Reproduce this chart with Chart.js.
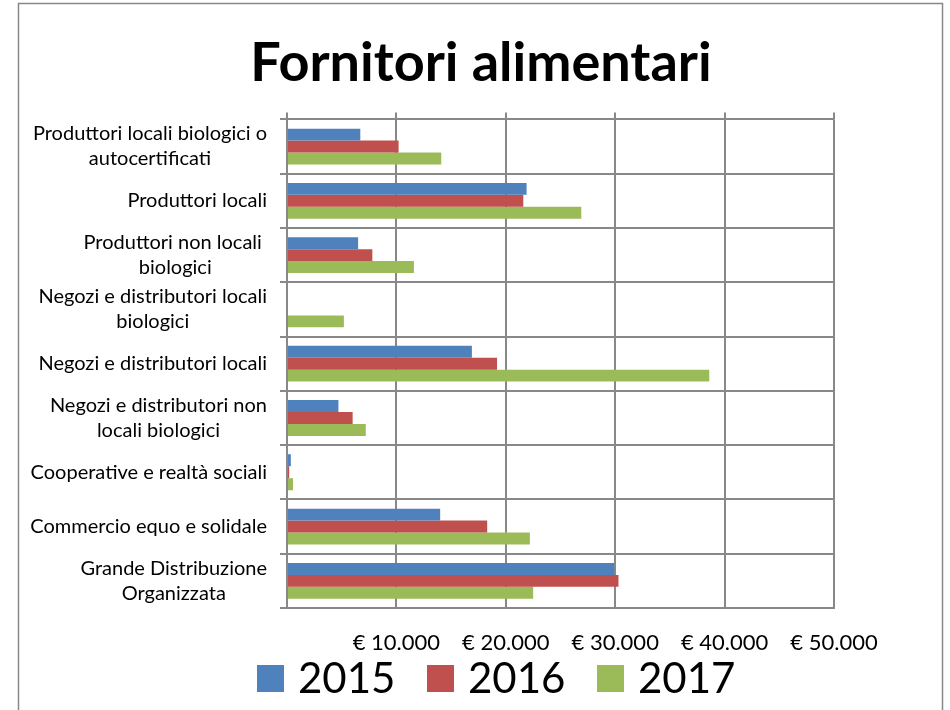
<!DOCTYPE html>
<html>
<head>
<meta charset="utf-8">
<script src="https://cdn.jsdelivr.net/npm/chart.js@4/dist/chart.umd.min.js"></script>
<style>
  body { margin: 0; background: #fff; }
  #wrap { width: 950px; height: 710px; }
</style>
</head>
<body>
<div id="wrap"><canvas id="fornitoriChart" width="950" height="710"></canvas></div>
<script>
// categories (one array per label line, wrapped like the original)
const categories = [
    ['Produttori locali biologici o', 'autocertificati'],
    ['Produttori locali'],
    ['Produttori non locali ', 'biologici'],
    ['Negozi e distributori locali', 'biologici'],
    ['Negozi e distributori locali'],
    ['Negozi e distributori non', 'locali biologici'],
    ['Cooperative e realtà sociali'],
    ['Commercio equo e solidale'],
    ['Grande Distribuzione', 'Organizzata']
];
const years = ['2015', '2016', '2017'];
const values2015 = [6700, 21900, 6500, 0, 16900, 4700, 350, 14000, 29900];
const values2016 = [10200, 21600, 7800, 0, 19200, 6000, 200, 18300, 30300];
const values2017 = [14100, 26900, 11600, 5200, 38600, 7200, 550, 22200, 22500];
const xTicks = [0, 10000, 20000, 30000, 40000, 50000];

const colors = ['#4F81BD', '#C0504D', '#9BBB59'];
const gridColor = '#888888';

function euro(v) {
    if (v === 0) return '';
    return '€ ' + String(v).replace(/\B(?=(\d{3})+(?!\d))/g, '.');
}

// frame, top tick marks, category labels and legend
const extras = {
    id: 'extras',
    beforeDraw(chart) {
        const c = chart.ctx;
        c.save();
        c.strokeStyle = gridColor;
        c.lineWidth = 1.5;
        c.strokeRect(18.5, 3.5, 924, 800);
        c.restore();
    },
    afterDraw(chart) {
        const c = chart.ctx;
        const x = chart.scales.x;
        const y = chart.scales.y;
        const area = chart.chartArea;

        // little tick marks above the plot
        c.save();
        c.strokeStyle = gridColor;
        c.lineWidth = 2;
        x.ticks.forEach((t, i) => {
            const px = Math.round(x.getPixelForTick(i));
            c.beginPath();
            c.moveTo(px, area.top - 7);
            c.lineTo(px, area.top);
            c.stroke();
        });

        // category labels: block right aligned, lines centred
        c.fillStyle = '#000';
        c.font = '20px Lato';
        c.textAlign = 'center';
        c.textBaseline = 'middle';
        const lineH = 25;
        categories.forEach((lines, i) => {
            const py = y.getPixelForTick(i);
            const w = Math.max(...lines.map(l => c.measureText(l).width));
            const cx = area.left - 20 - w / 2;
            const y0 = py - (lines.length - 1) * lineH / 2;
            lines.forEach((l, j) => c.fillText(l, cx, y0 + j * lineH));
        });

        // legend
        c.font = '42px Lato';
        c.textAlign = 'left';
        chart.data.datasets.forEach((ds, i) => {
            const bx = 257 + i * 170;
            c.fillStyle = ds.backgroundColor;
            c.fillRect(bx, 665, 27, 27);
            c.fillStyle = '#000';
            c.fillText(ds.label, bx + 41, 679);
        });
        c.restore();
    }
};

const ctx = document.getElementById('fornitoriChart').getContext('2d');
const fornitoriChart = new Chart(ctx, {
    type: 'bar',
    data: {
        labels: categories,
        datasets: [
            { label: years[0], data: values2015, backgroundColor: colors[0] },
            { label: years[1], data: values2016, backgroundColor: colors[1] },
            { label: years[2], data: values2017, backgroundColor: colors[2] }
        ]
    },
    options: {
        indexAxis: 'y',
        responsive: false,
        animation: false,
        devicePixelRatio: 1,
        layout: { padding: { left: 12, right: 0, top: 0, bottom: 0 } },
        datasets: {
            bar: { categoryPercentage: 0.66, barPercentage: 1 }
        },
        plugins: {
            legend: { display: false },
            tooltip: { enabled: false },
            title: {
                display: true,
                text: 'Fornitori alimentari',
                color: '#000',
                font: { family: 'Lato', size: 54, weight: 'bold', lineHeight: 1.1 },
                padding: { top: 34, bottom: 26 }
            }
        },
        scales: {
            x: {
                min: 0,
                max: 50000,
                afterBuildTicks: s => { s.ticks = xTicks.map(v => ({ value: v })); },
                afterFit: s => { s.height = 102; },
                grid: { color: gridColor, lineWidth: 2, drawTicks: false },
                border: { display: true, color: gridColor, width: 2 },
                ticks: {
                    color: '#000',
                    padding: 22,
                    maxRotation: 0,
                    autoSkip: false,
                    font: { family: 'Lato', size: 22 },
                    callback: v => euro(v)
                }
            },
            y: {
                afterFit: s => { s.width = 275; },
                grid: { color: gridColor, lineWidth: 2, offset: true, tickLength: 7 },
                border: { display: true, color: gridColor, width: 2 },
                ticks: { display: false }
            },
            yRight: {
                type: 'linear',
                position: 'right',
                display: true,
                afterFit: s => { s.width = 116; },
                grid: { display: false, drawTicks: false },
                border: { display: false },
                ticks: { display: false }
            }
        }
    },
    plugins: [extras]
});
</script>
</body>
</html>
